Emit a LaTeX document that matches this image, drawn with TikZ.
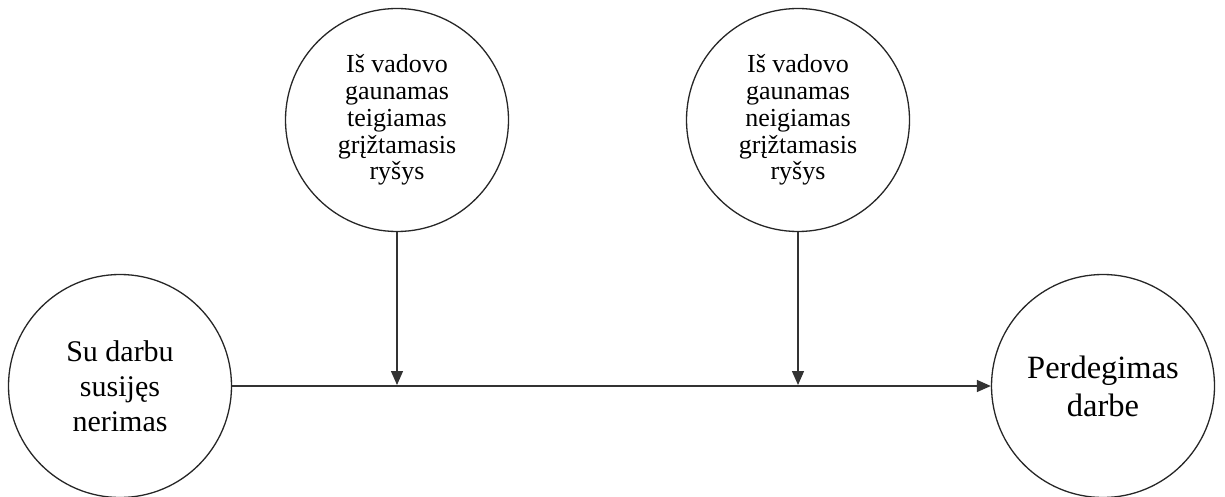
\documentclass[tikz,border=0pt]{standalone}
\usepackage{fontspec}
\setmainfont{Liberation Serif}
\usetikzlibrary{arrows.meta}
\begin{document}
\begin{tikzpicture}[x=1pt,y=-1pt,
  bubble/.style={draw=black!85,line width=1.3pt,circle,inner sep=0pt,
    minimum size=223pt,align=center,text=black},
  small/.style={font=\fontsize{26}{26.8}\selectfont},
  mid/.style={font=\fontsize{30}{35}\selectfont},
  big/.style={font=\fontsize{32.5}{38}\selectfont},
  link/.style={draw=black!80,line width=1.3pt,-{Triangle[length=14pt,width=12pt]}}]
\useasboundingbox (0,0) rectangle (1225,497);
\node[bubble,mid] (anx) at (120,386) {Su darbu\\susijęs\\nerimas};
\node[bubble,big] (burn) at (1103,386) {Perdegimas\\darbe};
\node[bubble,small] (pos) at (397,120) {Iš vadovo\\gaunamas\\teigiamas\\grįžtamasis\\ryšys};
\node[bubble,small] (neg) at (798,120) {Iš vadovo\\gaunamas\\neigiamas\\grįžtamasis\\ryšys};
\coordinate (mp) at (397,385);
\coordinate (mn) at (798,385);
\draw[link] (anx.east) -- (burn.west);
\draw[link] (pos.south) -- (mp);
\draw[link] (neg.south) -- (mn);
\end{tikzpicture}
\end{document}
